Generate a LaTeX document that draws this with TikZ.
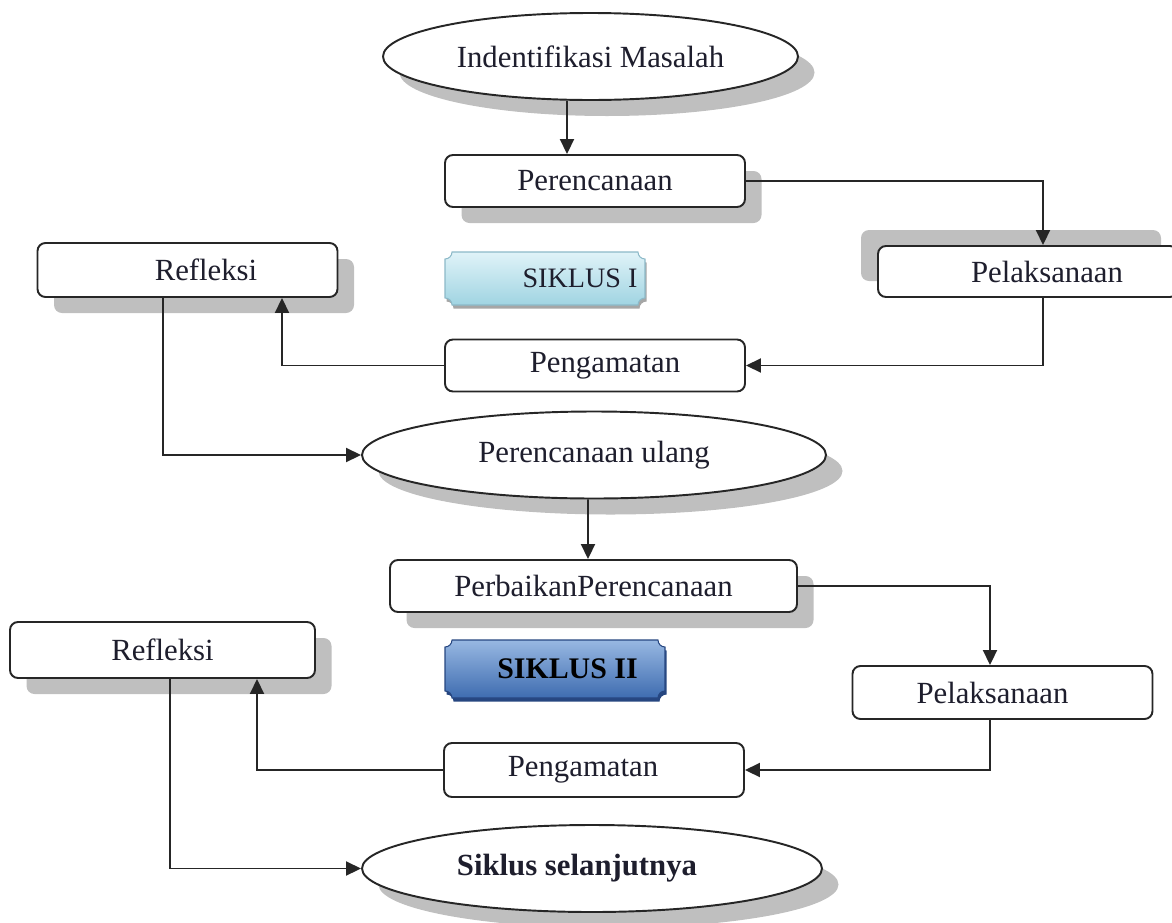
\documentclass[tikz,border=0pt]{standalone}
\usepackage{fontspec}
\setmainfont{Liberation Serif}
\usetikzlibrary{shapes.geometric, arrows.meta, shadows}

\definecolor{siklusatas}{RGB}{224,243,248}
\definecolor{siklusbawah}{RGB}{160,212,226}
\definecolor{siklustepi}{RGB}{140,185,200}
\definecolor{birumuda}{RGB}{152,184,226}
\definecolor{birutua}{RGB}{62,108,176}
\definecolor{birutepi}{RGB}{38,70,128}
\definecolor{teks}{RGB}{30,30,45}

\begin{document}
\begin{tikzpicture}[
    every node/.style={align=center, font=\fontsize{17.5}{21}\selectfont, text=teks},
    kotak/.style={rectangle, rounded corners=1.6mm, draw=black!85, fill=white, line width=1.1pt, minimum width=6cm, minimum height=1.04cm},
    oval/.style={ellipse, draw=black!85, fill=white, line width=1.1pt, minimum height=1.74cm},
    bayang/.style={drop shadow={shadow xshift=0.33cm, shadow yshift=-0.32cm, fill=black!25, opacity=1}},
    bayangkiri/.style={drop shadow={shadow xshift=-0.34cm, shadow yshift=0.32cm, fill=black!25, opacity=1}},
    panah/.style={-{Triangle[length=3mm, width=2.8mm]}, line width=1.1pt, draw=black!85}
]
\useasboundingbox (0,0) rectangle (23.44,-18.44);

% --- Plakat siklus (latar)
\path[draw=siklustepi, line width=0.6pt, top color=siklusatas, bottom color=siklusbawah,
      drop shadow={shadow xshift=0.03cm, shadow yshift=-0.07cm, fill=black!35, opacity=1}]
    (9.04,-5.04) -- (12.76,-5.04) arc[start angle=180, end angle=270, radius=0.14]
    -- (12.9,-5.96) arc[start angle=90, end angle=180, radius=0.14]
    -- (9.04,-6.1) arc[start angle=0, end angle=90, radius=0.14]
    -- (8.9,-5.18) arc[start angle=270, end angle=360, radius=0.14] -- cycle;
\node[font=\fontsize{16}{19}\selectfont] (siklus1) at (10.9,-5.57) {\hspace*{1.4cm}SIKLUS I};

\path[draw=birutepi, line width=0.6pt, top color=birumuda, bottom color=birutua,
      drop shadow={shadow xshift=0.03cm, shadow yshift=-0.07cm, fill=birutepi, opacity=1}]
    (9.04,-12.8) -- (13.16,-12.8) arc[start angle=180, end angle=270, radius=0.14]
    -- (13.3,-13.82) arc[start angle=90, end angle=180, radius=0.14]
    -- (9.04,-13.96) arc[start angle=0, end angle=90, radius=0.14]
    -- (8.9,-12.94) arc[start angle=270, end angle=360, radius=0.14] -- cycle;
\node[font=\fontsize{17}{20}\selectfont\bfseries, text=black] (siklus2) at (11.1,-13.38) {\hspace*{0.5cm}SIKLUS II};

% --- Siklus I
\node[oval, bayang, minimum width=8.3cm] (identifikasi) at (11.81,-1.13) {Indentifikasi Masalah};
\node[kotak, bayang] (perencanaan) at (11.9,-3.62) {Perencanaan};
\node[kotak, bayangkiri, minimum height=1.02cm] (pelaksanaan1) at (20.56,-5.43) {\hspace*{0.76cm}Pelaksanaan};
\node[kotak, bayang, minimum height=1.08cm] (refleksi1) at (3.75,-5.4) {\hspace*{0.74cm}Refleksi};
\node[kotak] (pengamatan1) at (11.9,-7.31) {\hspace*{0.4cm}Pengamatan};

% --- Siklus II
\node[oval, bayang, minimum width=9.28cm] (ulang) at (11.88,-9.1) {Perencanaan ulang};
\node[kotak, bayang, minimum width=8.14cm] (perbaikan) at (11.87,-11.72) {PerbaikanPerencanaan};
\node[kotak, minimum height=1.06cm] (pelaksanaan2) at (20.05,-13.85) {Pelaksanaan\hspace*{0.4cm}};
\node[kotak, bayang, minimum width=6.1cm, minimum height=1.12cm] (refleksi2) at (3.25,-13.0) {Refleksi};
\node[kotak, minimum height=1.08cm] (pengamatan2) at (11.88,-15.4) {Pengamatan\hspace*{0.44cm}};
\node[oval, bayang, minimum width=9.2cm] (selanjutnya) at (11.84,-17.37) {\textbf{Siklus selanjutnya}\hspace*{0.6cm}};

% --- Panah siklus I
\draw[panah] ([xshift=-4.7mm]identifikasi.south) -- ([xshift=-5.6mm]perencanaan.north);
\draw[panah] (perencanaan.east) -| ([xshift=3mm]pelaksanaan1.north);
\draw[panah] ([xshift=3mm]pelaksanaan1.south) |- (pengamatan1.east);
\draw[panah] (pengamatan1.west) -| ([xshift=18.9mm]refleksi1.south);
\draw[panah] ([xshift=-4.9mm]refleksi1.south) |- (ulang.west);

% --- Panah siklus II
\draw[panah] ([xshift=-1.2mm]ulang.south) -- ([xshift=-1.1mm]perbaikan.north);
\draw[panah] (perbaikan.east) -| ([xshift=-2.5mm]pelaksanaan2.north);
\draw[panah] ([xshift=-2.5mm]pelaksanaan2.south) |- (pengamatan2.east);
\draw[panah] (pengamatan2.west) -| ([xshift=18.9mm]refleksi2.south);
\draw[panah] ([xshift=1.5mm]refleksi2.south) |- (selanjutnya.west);

\end{tikzpicture}
\end{document}
